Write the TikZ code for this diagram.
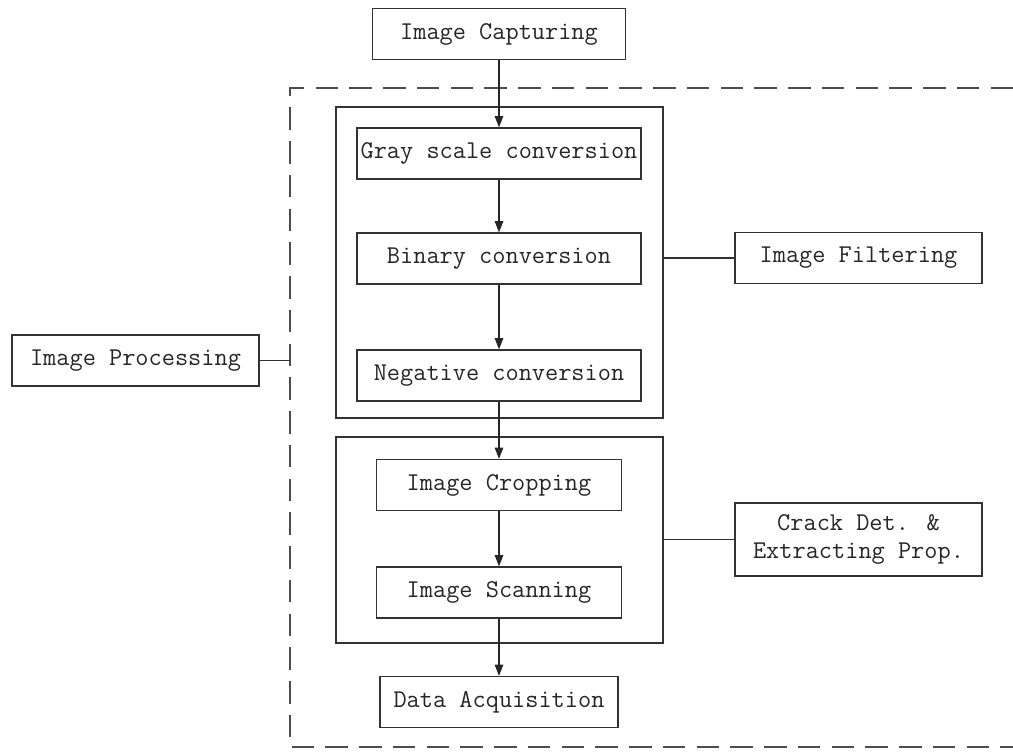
\documentclass[tikz,border=0pt]{standalone}
\usepackage{fontspec}
\usetikzlibrary{arrows.meta}
\begin{document}
\begin{tikzpicture}[
    x=0.025cm, y=-0.025cm,
    every node/.style={font=\fontsize{18.2}{19.5}\selectfont\ttfamily, text=black!85},
    block/.style={rectangle, draw=black!80, line width=1pt, minimum width=7.1cm, minimum height=1.27cm, align=center, inner sep=0pt},
    stagebox/.style={rectangle, draw=black!80, line width=1pt, minimum width=8.175cm, inner sep=0pt},
    side/.style={block, minimum width=6.175cm},
    arrow/.style={-{Triangle[width=6pt,length=8pt]}, line width=1pt, black!85},
    link/.style={line width=1pt, black!80},
    procframe/.style={line width=1pt, black!70, dash pattern=on 16pt off 8pt}
]
\useasboundingbox (0,0) rectangle (1013,751);

\node[block, minimum width=6.325cm] (capture) at (499,34) {Image Capturing};
\node[stagebox, minimum height=7.775cm] (filtgrp) at (499.5,262.5) {};
\node[block] (gray) at (499,153.5) {Gray scale conversion};
\node[block] (binary) at (499,258.5) {Binary conversion};
\node[block] (negative) at (499,375.5) {Negative conversion};
\node[stagebox, minimum height=5.15cm] (crackgrp) at (499.5,540) {};
\node[block, minimum width=6.125cm] (crop) at (499,485) {Image Cropping};
\node[block, minimum width=6.125cm] (scan) at (499,592.5) {Image Scanning};
\node[block, minimum width=5.95cm] (acq) at (499,702) {Data Acquisition};
\node[side] (filtering) at (858.5,258) {Image Filtering};
\node[side, minimum height=1.825cm] (crack) at (858.5,539.5) {Crack Det. \&\\Extracting Prop.};
\node[side] (proc) at (135.5,360.5) {Image Processing};

\coordinate (ftop) at (1013,88);
\coordinate (fnw) at (290,88);
\coordinate (fsw) at (290,747);
\coordinate (fbot) at (1013,747);
\draw[procframe] (ftop) -- (fnw) -- (fsw) -- (fbot);

\draw[arrow] (capture) -- (gray);
\draw[arrow] (gray) -- (binary);
\draw[arrow] (binary) -- (negative);
\draw[arrow] (negative) -- (crop);
\draw[arrow] (crop) -- (scan);
\draw[arrow] (scan) -- (acq);
\draw[link] (filtering.west) -- (filtering.west -| filtgrp.east);
\draw[link] (crack.west) -- (crack.west -| crackgrp.east);
\draw[link] (proc.east) -- (proc.east -| fnw);
\end{tikzpicture}
\end{document}
